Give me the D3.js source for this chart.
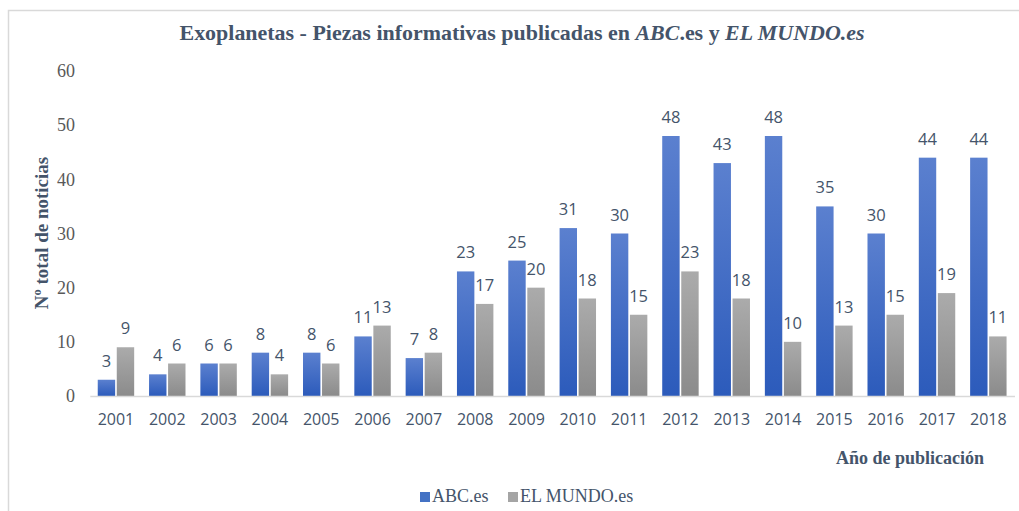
<!DOCTYPE html>
<html><head><meta charset="utf-8">
<script src="https://cdn.jsdelivr.net/npm/d3@7"></script>
<style>body{margin:0;background:#fff}</style>
</head><body>
<svg id="c" width="1019" height="511"></svg>
<script>
const years = ["2001","2002","2003","2004","2005","2006","2007","2008","2009","2010","2011","2012","2013","2014","2015","2016","2017","2018"];
const abc = [3,4,6,8,8,11,7,23,25,31,30,48,43,48,35,30,44,44];
const mundo = [9,6,6,4,6,13,8,17,20,18,15,23,18,10,13,15,19,11];
const seriesNames = ["ABC.es","EL MUNDO.es"];
const yTicks = [0,10,20,30,40,50,60];

(function(){
const svg = d3.select("#c");
const W = 1019, H = 511;
const pL = 90.3, pR = 1014, pT = 71, pB = 396;
const serif = "'Liberation Serif','Times New Roman',serif";
const sans = "'Open Sans','Liberation Sans',sans-serif";
const titleCol = "#44546a";

// border
svg.append("path").attr("d", `M8.5,${H} L8.5,10.5 L${W},10.5`).attr("fill","none").attr("stroke","#d9d9d9").attr("stroke-width",1.5);

const defs = svg.append("defs");
const g1 = defs.append("linearGradient").attr("id","gBlue").attr("x1",0).attr("y1",0).attr("x2",0).attr("y2",1);
g1.append("stop").attr("offset","0%").attr("stop-color","#5b80cf");
g1.append("stop").attr("offset","100%").attr("stop-color","#2c5bbb");
const g2 = defs.append("linearGradient").attr("id","gGray").attr("x1",0).attr("y1",0).attr("x2",0).attr("y2",1);
g2.append("stop").attr("offset","0%").attr("stop-color","#ababab");
g2.append("stop").attr("offset","100%").attr("stop-color","#8b8b8b");

const x = d3.scaleBand().domain(years).range([pL,pR]).paddingInner(0.29).paddingOuter(0.145);
const xs = d3.scaleBand().domain(seriesNames).range([0,x.bandwidth()]).paddingInner(0.085);
const y = d3.scaleLinear().domain([0,60]).range([pB,pT]);

// y tick labels
svg.append("g").selectAll("text").data(yTicks).join("text")
  .attr("x",75).attr("y",d=>y(d)).attr("dy","0.35em").attr("text-anchor","end")
  .attr("font-family",serif).attr("font-size",18).attr("fill","#595959").text(d=>d);

const data = years.map((yr,i)=>({yr, vals:[{s:seriesNames[0],v:abc[i]},{s:seriesNames[1],v:mundo[i]}]}));
const groups = svg.append("g").selectAll("g").data(data).join("g").attr("transform",d=>`translate(${x(d.yr)},0)`);
groups.selectAll("rect").data(d=>d.vals).join("rect")
  .attr("x",d=>xs(d.s)).attr("width",xs.bandwidth())
  .attr("y",d=>y(d.v)).attr("height",d=>y(0)-y(d.v))
  .attr("fill",d=>d.s===seriesNames[0]?"url(#gBlue)":"url(#gGray)");
groups.selectAll("text").data(d=>d.vals).join("text")
  .attr("x",d=>xs(d.s)+xs.bandwidth()/2).attr("y",d=>y(d.v)-13)
  .attr("text-anchor","middle").attr("font-family",sans).attr("font-size",16.5).attr("fill","#44546a").text(d=>d.v);

// baseline
svg.append("line").attr("x1",pL).attr("x2",1015).attr("y1",pB+0.5).attr("y2",pB+0.5).attr("stroke","#d9d9d9").attr("stroke-width",1.5);

// x tick labels
svg.append("g").selectAll("text").data(years).join("text")
  .attr("x",d=>x(d)+x.bandwidth()/2).attr("y",425).attr("text-anchor","middle")
  .attr("font-family",sans).attr("font-size",16).attr("fill","#44546a").text(d=>d);

// title
const t = svg.append("text").attr("x",522).attr("y",40).attr("text-anchor","middle")
  .attr("font-family",serif).attr("font-weight","bold").attr("font-size",22).attr("fill",titleCol)
  .attr("textLength",685).attr("lengthAdjust","spacingAndGlyphs");
t.append("tspan").text("Exoplanetas - Piezas informativas publicadas en ");
t.append("tspan").attr("font-style","italic").text("ABC");
t.append("tspan").text(".es y ");
t.append("tspan").attr("font-style","italic").text("EL MUNDO.es");

// y axis title
svg.append("text").attr("transform","translate(48,233) rotate(-90)").attr("text-anchor","middle")
  .attr("font-family",serif).attr("font-weight","bold").attr("font-size",19).attr("fill",titleCol).text("Nº total de noticias");

// x axis title
svg.append("text").attr("x",910).attr("y",464).attr("text-anchor","middle")
  .attr("font-family",serif).attr("font-weight","bold").attr("font-size",18).attr("fill",titleCol).text("Año de publicación");

// legend
const leg = svg.append("g");
const legItems = [{n:seriesNames[0],c:"#4472c4",x:420},{n:seriesNames[1],c:"#a5a5a5",x:508}];
legItems.forEach(it=>{
  leg.append("rect").attr("x",it.x).attr("y",492).attr("width",10).attr("height",10).attr("fill",it.c);
  leg.append("text").attr("x",it.x+12).attr("y",502).attr("font-family",serif).attr("font-size",18).attr("fill","#44546a").text(it.n);
});
})();
</script>
</body></html>
